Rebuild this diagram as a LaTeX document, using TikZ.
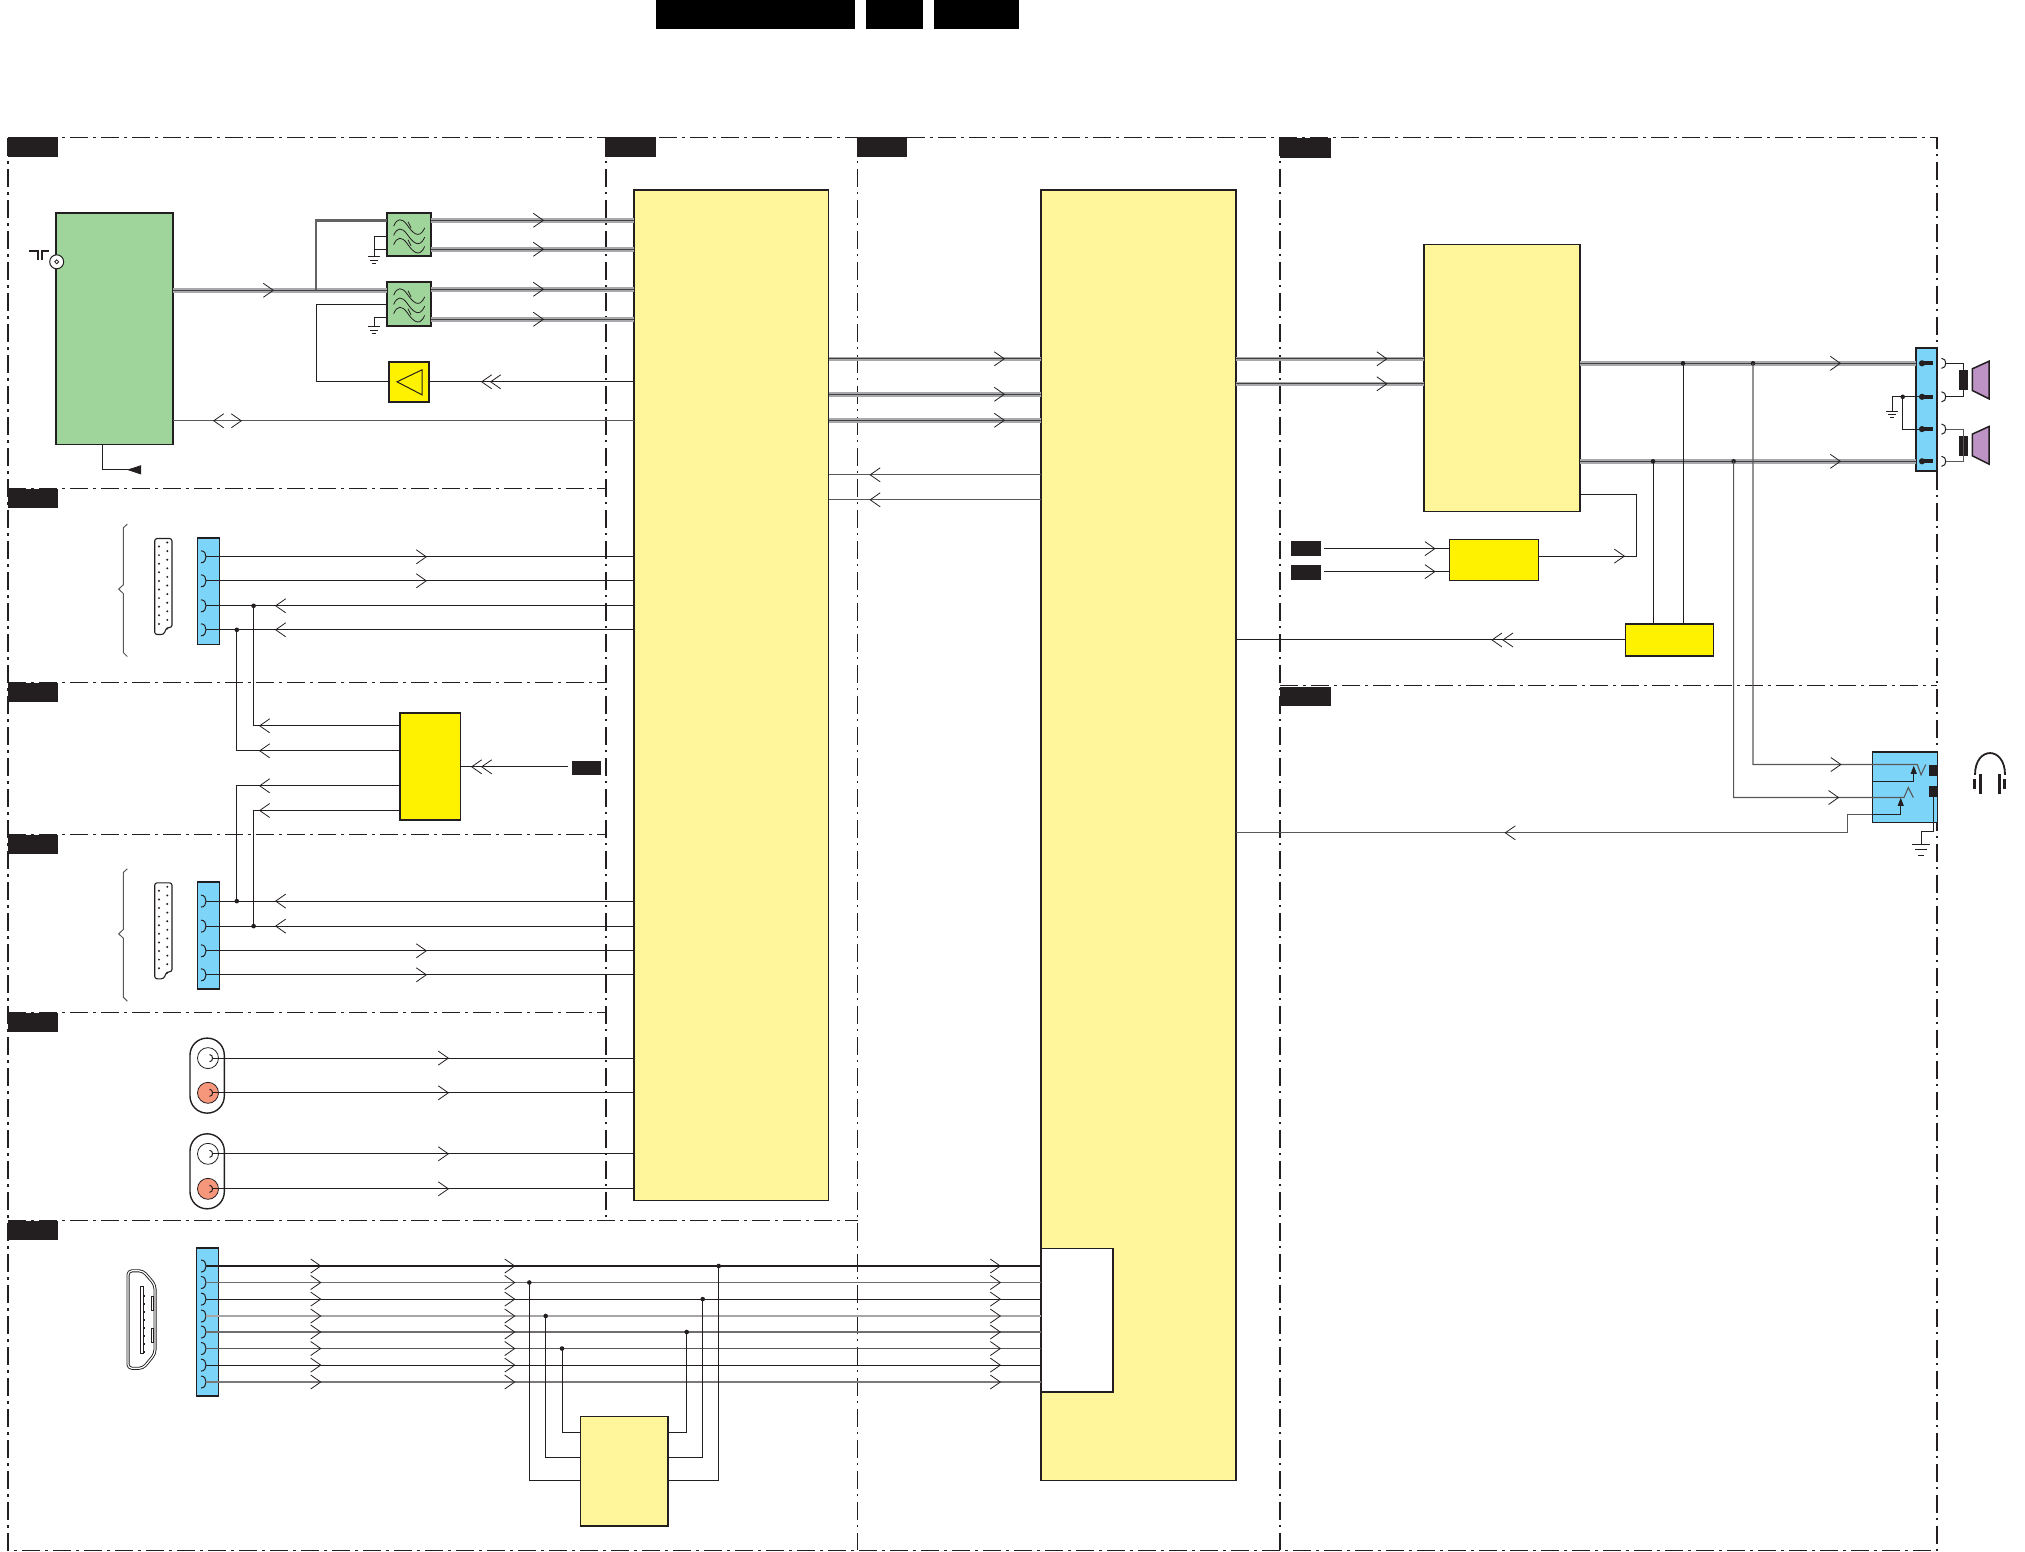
\documentclass[tikz,border=0pt]{standalone}
\usepackage{xcolor}
\usetikzlibrary{arrows.meta,positioning,decorations.markings}
\definecolor{ink}{HTML}{231F20}
\definecolor{busgray}{HTML}{A7A9AC}
\definecolor{pale}{HTML}{FFF59B}
\definecolor{vivid}{HTML}{FFF200}
\definecolor{sky}{HTML}{7CD4F8}
\definecolor{leaf}{HTML}{9FD59B}
\definecolor{coral}{HTML}{F6967A}
\definecolor{cone}{HTML}{BC93C4}
\begin{document}
\begin{tikzpicture}[
    x=1pt, y=-1pt,
    zone/.style={draw=ink, line width=1.1pt, dash pattern=on 18pt off 5pt on 2.5pt off 5.5pt},
    block/.style 2 args={draw=ink, line width=1.4pt, anchor=north west, inner sep=0pt, outer sep=0pt,
                minimum width=#1pt, minimum height=#2pt},
    tag/.style 2 args={fill=ink, anchor=north west, inner sep=0pt, outer sep=0pt,
                minimum width=#1pt, minimum height=#2pt},
    dot/.style={circle, fill=ink, inner sep=0pt, minimum size=4.6pt},
    wire/.style={draw=ink, line width=1pt},
    wireg/.style={draw=ink!75, line width=1.1pt},
    bus/.style={draw=busgray, line width=4.6pt, postaction={draw=ink!85, line width=1.3pt}},
    chev/.style={postaction={decorate, decoration={markings, mark=at position #1pt with
                {\arrow{Straight Barb[length=10pt,width=14pt,line width=.8pt,color=ink]}}}}},
    chevv/.style 2 args={chev=#1, chev=#2},
    jack/.pic={\draw[wire] (-5,-6) .. controls (-1.5,-6) and (0,-3) .. (0,0) .. controls (0,3) and (-1.5,6) .. (-5,6);},
    gnd/.pic={\draw[wire] (-6,0) -- (6,0) (-4,3.4) -- (4,3.4) (-2,6.8) -- (2,6.8);},
    waves/.pic={\foreach \d in {0,9.3,18.6} {
        \draw[draw=ink, line width=.8pt] (6.7,13.3+\d) .. controls (10,5+\d) and (15,5+\d) .. (20,12+\d)
          .. controls (25,19+\d) and (32,28+\d) .. (37.7,15+\d);}
        \draw[draw=ink, line width=.8pt] (21,9) -- (24,15) (21,27) -- (24,33);},
    scart/.pic={\draw[draw=ink, line width=1.1pt, fill=white, rounded corners=2.5pt]
          (0,0) -- (17.3,0) -- (17.3,89) -- (12,89) -- (9,96) -- (0,96) -- cycle;
        \foreach \n in {0,...,9} {\fill[ink] (4.3,8+\n*8.6) circle (1.1);}
        \foreach \n in {0,...,10} {\fill[ink] (12.6,4+\n*8.6) circle (1.1);}},
    curly/.pic={\draw[draw=ink!75, line width=1pt] (8.6,0) -- (4.6,3.7) -- (4.6,60.7) -- (0,65) -- (4.6,69.4)
          -- (4.6,128.4) -- (8.6,132.4);},
    speaker/.pic={\draw[draw=ink, line width=1.5pt, fill=cone] (0,0) -- (16.7,-7.6) -- (16.7,30) -- (0,21.7) -- cycle;},
    spkpin/.pic={\fill[ink] (0,0) circle (3.1); \fill[ink] (0,-2) rectangle (10.7,2);}
  ]
  \useasboundingbox (0,-.8) rectangle (2025,1550.2);

  \draw[zone] (8,137) -- (1937,137) -- (1937,1549.5) -- (8,1549.5) -- cycle;
  \draw[zone] (606,137) -- (606,1220);
  \draw[zone] (857.7,137) -- (857.7,1549.5);
  \draw[zone] (1280,137) -- (1280,1549.5);
  \draw[zone] (8,488) -- (606,488);
  \draw[zone] (8,682) -- (606,682);
  \draw[zone] (8,834) -- (606,834);
  \draw[zone] (8,1012) -- (606,1012);
  \draw[zone] (8,1220) -- (857.7,1220);
  \draw[zone] (1280,685) -- (1937,685);

  \node[tag={199}{29}, fill=black] (titlea) at (656,-.8) {};
  \node[tag={57}{29}, fill=black, right=11pt of titlea] (titleb) {};
  \node[tag={85}{29}, fill=black, right=11pt of titleb] (titlec) {};
  \node[tag={50.5}{20}] (zonea) at (7.5,136) {};
  \node[tag={51}{20}] (zoneb) at (605,136) {};
  \node[tag={50}{20}] (zonec) at (857,136) {};
  \node[tag={51}{20}] (zoned) at (1280,137) {};
  \node[tag={50.5}{19}] (zonee) at (7.5,488) {};
  \node[tag={50.5}{19}] (zonef) at (7.5,682) {};
  \node[tag={50.5}{19}] (zoneg) at (7.5,834) {};
  \node[tag={50.5}{19}] (zoneh) at (7.5,1012) {};
  \node[tag={50.5}{19}] (zonei) at (7.5,1220) {};
  \node[tag={51}{19}] (zonej) at (1280,686) {};

  \node[block={117}{231.5}, fill=leaf] (tuner) at (56,212) {};
  \node[block={44}{43}, fill=leaf] (sawa) at (387,212) {};
  \node[block={44}{44}, fill=leaf, below=26pt of sawa] (sawb) {};
  \node[block={40}{40}, fill=vivid, below=36pt of sawb] (rfamp) {};
  \node[block={194.5}{1010.5}, fill=pale] (dec) at (634,189) {};
  \node[block={195}{1290.5}, fill=pale] (proc) at (1041,189) {};
  \node[block={72}{143.4}, fill=white] (rx) at (1041,1247.6) {};
  \node[block={156}{267}, fill=pale] (aamp) at (1424,243.5) {};
  \node[block={60.7}{107}, fill=vivid] (swbox) at (400,712) {};
  \node[block={89}{41}, fill=vivid] (mute) at (1449.6,538.8) {};
  \node[block={88}{32.3}, fill=vivid] (sense) at (1625.3,623) {};
  \node[block={87.4}{109.3}, fill=pale] (edid) at (580.6,1415.7) {};
  \node[block={65}{70.7}, fill=sky] (hpjack) at (1872.3,751) {};
  \node[block={22}{106.3}, fill=sky] (scarta) at (197.3,537.2) {};
  \node[block={22}{107}, fill=sky] (scartb) at (197.3,881.2) {};
  \node[block={21.6}{148}, fill=sky] (hdconn) at (196.7,1247) {};
  \node[block={21}{123}, fill=sky] (spkconn) at (1916,347) {};
  \node[tag={29}{14}] (swtag) at (572,760) {};
  \node[tag={30}{15}] (mutea) at (1291,540.5) {};
  \node[tag={30}{15}] (muteb) at (1291,564.5) {};

  \pic at (387,212) {waves};
  \pic at (387,281) {waves};
  \draw[draw=ink, line width=1pt] (422,369) -- (397,381) -- (422,394) -- cycle;

  \node[circle, draw=ink, fill=white, line width=1pt, inner sep=0pt, minimum size=14pt] (coax) at (56.7,261) {};
  \draw[draw=ink, line width=.8pt] (54.7,261) -- (56.7,259) -- (58.7,261) -- (56.7,263) -- cycle;
  \draw[draw=ink, line width=1.5pt] (29,250) -- (38,250) -- (38,259) (42,259) -- (42,250) -- (49,250);

  \coordinate (tunout) at (173,289.5);
  \coordinate (sawain) at (387,219.5);
  \node[dot] (jt) at (316,289.5) {};
  \draw[bus, chev=101] (tunout) -- (sawb.west |- tunout);
  \draw[draw=ink!70, line width=2.6pt] (jt.center) |- (sawain);
  \foreach \p/\y in {aq/219.5,ar/248.5,bq/288.5,br/318.5} {
    \coordinate (saw\p) at (431,\y);
    \draw[bus, chev=113] (saw\p) -- (dec.west |- saw\p);
  }
  \coordinate (sawag) at (374,256);
  \coordinate (sawaga) at (387,236);
  \coordinate (sawagb) at (387,249);
  \draw[wire] (sawaga) -| (sawag);
  \draw[wire] (sawagb) -| (sawag);
  \pic at (sawag) {gnd};
  \coordinate (sawbg) at (374,326);
  \coordinate (sawbga) at (387,317);
  \draw[wire] (sawbga) -| (sawbg);
  \pic at (sawbg) {gnd};
  \coordinate (rfback) at (316,304);
  \draw[wire] (rfamp.west) -| (rfback) -- (sawb.west |- rfback);
  \draw[wire, chevv={144}{153}] (dec.west |- rfamp.east) -- (rfamp.east);
  \coordinate (tunbi) at (173,420);
  \draw[wireg, chev=69] (tunbi) -- (dec.west |- tunbi);
  \path[chev=421] (dec.west |- tunbi) -- (tunbi);
  \coordinate (tunbot) at (102,444);
  \coordinate (tunend) at (141,469);
  \draw[wire, -{Triangle[reversed,length=14pt,width=9pt,color=ink]}] (tunbot) |- (tunend);

  \pic at (118.7,523.3) {curly};
  \pic at (154.7,537.7) {scart};
  \pic at (118.7,868) {curly};
  \pic at (154.7,882) {scart};
  \foreach \n/\y in {1/556,2/580,3/605,4/629} {
    \coordinate (sa\n) at (206,\y);
    \pic at (sa\n) {jack};
  }
  \foreach \n/\y in {1/900.3,2/925.3,3/950,4/974} {
    \coordinate (sb\n) at (206,\y);
    \pic at (sb\n) {jack};
  }
  \node[dot] (ja) at (253.6,605) {};
  \node[dot] (jb) at (236.8,629) {};
  \node[dot] (jc) at (236.8,900.3) {};
  \node[dot] (jd) at (253.6,925.3) {};
  \draw[wire, chev=221] (sa1) -- (dec.west |- sa1);
  \draw[wire, chev=221] (sa2) -- (dec.west |- sa2);
  \draw[wire, chev=359] (dec.west |- sa3) -- (sa3);
  \draw[wire, chev=359] (dec.west |- sa4) -- (sa4);
  \draw[wire, chev=359] (dec.west |- sb1) -- (sb1);
  \draw[wire, chev=359] (dec.west |- sb2) -- (sb2);
  \draw[wire, chev=221] (sb3) -- (dec.west |- sb3);
  \draw[wire, chev=221] (sb4) -- (dec.west |- sb4);
  \coordinate (swa) at (400,725);
  \coordinate (swb) at (400,750);
  \coordinate (swc) at (400,785);
  \coordinate (swd) at (400,809.7);
  \draw[wire, chev=141] (swa) -| (ja.center);
  \draw[wire, chev=141] (swb) -| (jb.center);
  \draw[wire, chev=141] (swc) -| (jc.center);
  \draw[wire, chev=141] (swd) -| (jd.center);
  \coordinate (swin) at (568,766);
  \draw[wire, chevv={87}{97}] (swin) -- (swbox.east |- swin);

  \node[block={34.3}{75}, rounded corners=17pt] (rcaa) at (190,1037.3) {};
  \node[block={34.3}{75}, rounded corners=17pt] (rcab) at (190,1133) {};
  \foreach \n/\y/\c in {1/1057.3/white,2/1092/coral,3/1153/white,4/1188/coral} {
    \node[circle, draw=ink, fill=\c, line width=.8pt, inner sep=0pt, minimum size=21pt] (rcj\n) at (208,\y) {};
    \coordinate (rcp\n) at (212.5,\y);
    \pic[scale=.6] at (rcp\n) {jack};
    \draw[wire, chev=236.5] (rcp\n) -- (dec.west |- rcp\n);
  }

  \draw[draw=ink, line width=.9pt, double, double distance=1.2pt, rounded corners=4pt]
    (128,1270) -- (143,1270) -- (155,1284) -- (155,1353) -- (143,1367.5) -- (128,1367.5) -- cycle;
  \draw[draw=ink, line width=.8pt] (140.3,1286) rectangle (143,1353);
  \draw[draw=ink, line width=.8pt] (151,1296) rectangle (153.7,1310);
  \draw[draw=ink, line width=.8pt] (151,1328) rectangle (153.7,1342);
  \foreach \y in {1294,1302,...,1350} {\fill[ink] (143,\y) rectangle (145,\y+2.5);}

  \foreach \n/\y/\c in {1/1265.2/ink,2/1281.7/ink!65,3/1298.3/ink,4/1315.2/ink!40,5/1331.2/ink!65,6/1347.7/ink!75,7/1364.3/ink,8/1381.2/ink!60} {
    \coordinate (hd\n) at (206,\y);
    \pic at (hd\n) {jack};
    \draw[draw=\c, line width=1.1pt, chev=115.4, chev=309.4, chev=795] (hd\n) -- (rx.west |- hd\n);
  }
  \node[dot] (je1) at (529.3,1281.7) {};
  \node[dot] (je2) at (545.7,1315.2) {};
  \node[dot] (je3) at (562,1347.7) {};
  \node[dot] (je4) at (686.7,1331.2) {};
  \node[dot] (je5) at (702.7,1298.3) {};
  \node[dot] (je6) at (718.7,1265.2) {};
  \coordinate (edl1) at (580.6,1480);
  \coordinate (edl2) at (580.6,1456.4);
  \coordinate (edl3) at (580.6,1432);
  \coordinate (edr1) at (668,1432);
  \coordinate (edr2) at (668,1456.4);
  \coordinate (edr3) at (668,1480);
  \draw[wire] (edl1) -| (je1.center);
  \draw[wire] (edl2) -| (je2.center);
  \draw[wire] (edl3) -| (je3.center);
  \draw[wire] (edr1) -| (je4.center);
  \draw[wire] (edr2) -| (je5.center);
  \draw[wire] (edr3) -| (je6.center);

  \foreach \p/\y in {a/358,b/393.5,c/419.5} {
    \coordinate (deo\p) at (828.5,\y);
    \draw[bus, chev=176.5] (deo\p) -- (proc.west |- deo\p);
  }
  \foreach \p/\y in {a/474,b/499} {
    \coordinate (dei\p) at (828.5,\y);
    \draw[wireg, chev=171.5] (proc.west |- dei\p) -- (dei\p);
  }
  \foreach \p/\y in {a/358,b/383} {
    \coordinate (pro\p) at (1236,\y);
    \draw[bus, chev=151.5] (pro\p) -- (aamp.west |- pro\p);
  }
  \coordinate (amoa) at (1580,362.5);
  \coordinate (amob) at (1580,460.5);
  \draw[bus, chev=261] (amoa) -- (spkconn.west |- amoa);
  \draw[bus, chev=261] (amob) -- (spkconn.west |- amob);
  \node[dot] (js1) at (1683,362.5) {};
  \node[dot] (js2) at (1753,362.5) {};
  \node[dot] (js3) at (1653,460.5) {};
  \node[dot] (js4) at (1733.6,460.5) {};
  \draw[wire] (js1.center) -- (sense.north -| js1);
  \draw[wire] (js3.center) -- (sense.north -| js3);

  \coordinate (mta) at (1324,547.8);
  \coordinate (mtb) at (1324,570.8);
  \draw[wire, chev=111.6] (mta) -- (mute.west |- mta);
  \draw[wire, chev=111.6] (mtb) -- (mute.west |- mtb);
  \coordinate (mtout) at (1538.7,555.3);
  \coordinate (mtc) at (1636.4,555.3);
  \coordinate (amfb) at (1580,493.3);
  \draw[wire, chev=86.3] (mtout) -- (mtc) |- (amfb);
  \draw[wire, chevv={123}{134}] (sense.west) -- (proc.east |- sense.west);

  \foreach \n/\y in {1/362.5,2/396,3/428.3,4/460.5} {
    \coordinate (spi\n) at (1922,\y);
    \pic at (spi\n) {spkpin};
    \coordinate (spo\n) at (1945.7,\y);
    \pic[scale=.85] at (spo\n) {jack};
  }
  \node[tag={9}{20}, anchor=center] (coila) at (1963.5,379.3) {};
  \node[tag={9}{20}, anchor=center] (coilb) at (1963.5,445) {};
  \draw[wire] (spo1) -| (coila.center) |- (spo2);
  \draw[wireg] (spo3) -| (coilb.center) |- (spo4);
  \pic at (1972.3,368) {speaker};
  \pic at (1972.3,433.3) {speaker};
  \node[dot] (js5) at (1902.7,396) {};
  \coordinate (spg) at (1892.3,410.3);
  \draw[wire] (spi2) -| (spg);
  \pic at (spg) {gnd};
  \draw[wire] (js5.center) |- (spi3);

  \coordinate (hpa) at (1917.3,763.7);
  \coordinate (hpb) at (1904,796.7);
  \coordinate (hpc) at (1872.3,813.3);
  \coordinate (hpd) at (1847.7,813.3);
  \coordinate (hpe) at (1847.7,832);
  \coordinate (hpf) at (1872.3,780.3);
  \coordinate (hpg) at (1913.7,765);
  \coordinate (hph) at (1900.7,797);
  \draw[wireg, chev=489.7] (js2.center) |- (hpa) -- (1921,774) -- (1925.7,763.7);
  \draw[wireg, chev=441.8] (js4.center) |- (hpb) -- (1908.3,786.7) -- (1913.3,796.7);
  \draw[wireg, chev=386.4] (hpc) -- (hpd) -- (hpe) -- (proc.east |- hpe);
  \draw[wire, -{Triangle[length=8pt,width=6pt,color=ink]}] (hpf) -| (hpg);
  \draw[wire, -{Triangle[length=8pt,width=6pt,color=ink]}] (hpc) -| (hph);
  \node[tag={8}{10.7}] (hpcta) at (1929,764) {};
  \node[tag={8}{10.7}] (hpctb) at (1929,785.3) {};
  \coordinate (hpgr) at (1921.3,844);
  \draw[wire] (1933.7,796) -- (1933.7,830.3) -| (hpgr);
  \pic[scale=1.5] at (hpgr) {gnd};

  \draw[draw=ink, line width=1.8pt] (1975,774) .. controls (1975,745) and (2005,745) .. (2005,774);
  \fill[ink] (1973,778) rectangle (1975.7,787.7);
  \fill[ink] (1979,773) rectangle (1981.7,793.3);
  \fill[ink] (1998,773) rectangle (2000.7,793.3);
  \fill[ink] (2003,778) rectangle (2005.7,787.7);
\end{tikzpicture}
\end{document}
